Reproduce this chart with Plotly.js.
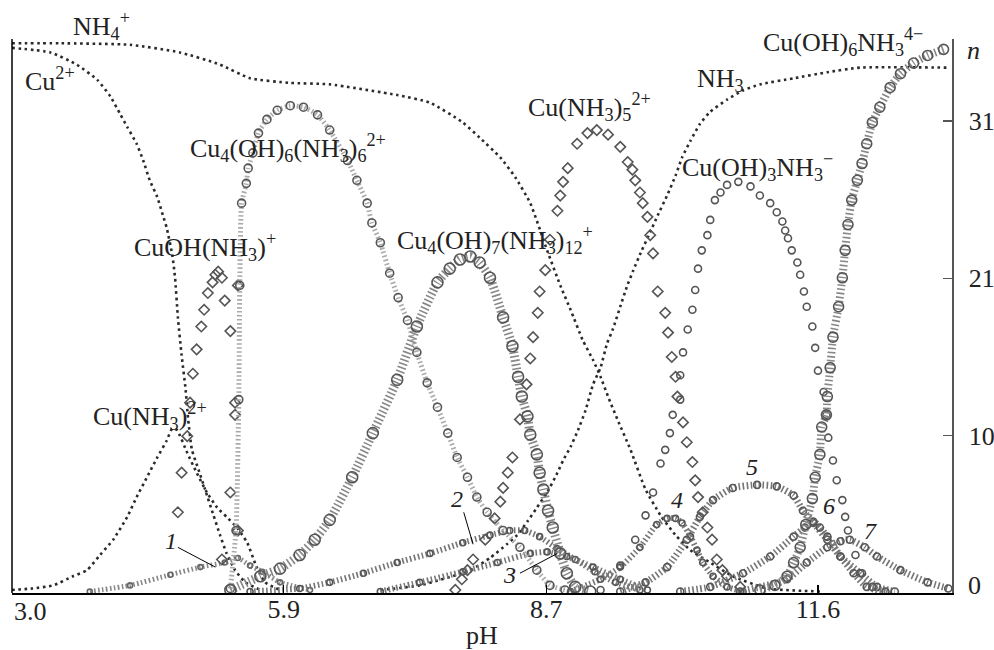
<!DOCTYPE html>
<html><head><meta charset="utf-8">
<script src="https://cdn.plot.ly/plotly-3.0.1.min.js"></script>
<style>html,body{margin:0;padding:0;background:#fff}</style>
</head><body>
<div id="chart" style="width:994px;height:650px"></div>
<script>
// ---- data (pH, n) ----
const pH_NH4 = [3.0,3.51,4.26,4.79,5.22,5.54,5.97,6.39,7.11,7.46,7.81,7.99,8.21,8.37,8.53,8.71,8.85,8.96,9.09,9.20,9.28,9.36,9.46,9.60,9.76,9.92,10.08,10.24,10.45,10.69,11.06,11.62];
const n_NH4  = [36.1,36.1,36.0,35.5,34.7,33.8,33.5,33.4,32.7,32.2,30.9,29.9,28.6,27.3,25.6,22.5,20.2,18.6,16.6,15.3,14.2,12.9,11.4,9.4,6.8,5.1,3.8,2.8,2.0,1.1,0.3,0.1];

const pH_NH3 = [6.93,7.35,7.89,8.10,8.28,8.39,8.50,8.60,8.71,8.82,8.88,8.96,9.04,9.12,9.20,9.28,9.35,9.41,9.49,9.56,9.63,9.72,9.81,9.89,9.99,10.08,10.15,10.24,10.34,10.45,10.63,10.80,10.98,11.34,11.70,12.05,12.99];
const n_NH3  = [0.2,0.5,1.5,2.3,3.2,3.8,4.7,5.6,6.6,7.9,8.7,9.6,10.7,12.0,13.7,14.8,16.4,17.3,18.8,20.1,21.2,22.5,23.7,24.8,26.1,27.4,28.6,29.7,30.8,31.6,32.4,33.0,33.4,33.8,34.2,34.5,34.5];

const pH_Cu = [3.0,3.41,3.69,3.91,4.05,4.15,4.23,4.33,4.40,4.47,4.55,4.61,4.65,4.71,4.74,4.77,4.81,4.85,4.88,4.92,4.99,5.06,5.15,5.22,5.29,5.38,5.49,5.65];
const n_Cu  = [35.8,35.5,34.7,33.7,32.6,31.5,30.6,29.5,28.4,27.1,26.0,24.8,24.0,22.2,20.7,18.1,15.6,13.5,11.4,9.4,8.1,6.8,5.1,3.8,2.6,1.5,0.7,0.2];

const pH_CuNH3 = [3.0,3.22,3.44,3.65,3.80,3.94,4.08,4.23,4.33,4.44,4.55,4.65,4.71,4.76,4.87,4.97,5.08,5.19,5.29,5.40,5.51,5.61,5.70,5.86];
const n_CuNH3  = [0.2,0.3,0.5,1.1,1.5,2.5,3.5,5.0,6.3,7.6,8.9,10.0,10.8,10.7,9.2,7.9,6.6,5.6,5.0,4.3,3.3,1.7,0.7,0.2];

const pH_CuOH = [4.77,4.81,4.90,4.93,4.97,5.02,5.05,5.09,5.14,5.17,5.20,5.24,5.27,5.41,5.33,5.38,5.38,5.33,5.41,5.24,4.87];
const n_CuOH  = [5.3,7.9,12.5,14.4,16.0,17.5,18.6,19.7,20.4,20.9,21.1,20.7,19.2,20.2,17.2,12.5,11.7,6.6,4.1,2.2,10.3];

const pH_Cu4OH6 = [5.33,5.39,5.42,5.43,5.45,5.50,5.52,5.57,5.63,5.72,5.83,5.97,6.11,6.26,6.39,6.58,6.68,6.79,6.84,6.93,7.03,7.12,7.22,7.32,7.43,7.54,7.65,7.75,7.86,7.96,8.07,8.24,8.42,8.60,8.74,8.90];
const n_Cu4OH6  = [0.3,4.1,12.7,20.2,25.6,26.9,27.9,28.9,30.2,31.1,31.7,32.0,31.9,31.4,30.4,28.4,27.1,25.6,24.3,23.0,21.0,19.4,17.9,15.8,13.8,12.2,10.5,8.9,7.6,6.3,5.3,4.1,3.0,1.5,0.5,0.2];

const pH_Cu4OH7 = [5.33,5.65,5.86,6.07,6.23,6.39,6.63,6.85,7.11,7.32,7.54,7.67,7.78,7.89,7.99,8.10,8.24,8.34,8.40,8.44,8.50,8.53,8.60,8.63,8.67,8.72,8.77,8.85,8.92,9.01,9.17];
const n_Cu4OH7  = [0.2,1.1,1.6,2.5,3.5,4.8,7.6,10.5,14.0,17.5,20.4,21.3,21.9,22.1,21.7,20.7,18.1,16.2,14.2,12.9,11.6,10.4,9.1,7.9,6.8,5.4,4.3,2.6,1.3,0.4,0.1];

const pH_CuNH35 = [7.73,7.80,7.86,7.92,8.05,8.15,8.21,8.24,8.29,8.34,8.42,8.49,8.53,8.56,8.61,8.63,8.69,8.74,8.82,8.85,8.88,8.93,9.03,9.14,9.24,9.36,9.49,9.57,9.62,9.65,9.70,9.73,9.78,9.81,9.84,9.89,9.97,10.00,10.04,10.08,10.10,10.16,10.20,10.26,10.29,10.32,10.37,10.42,10.47,10.52,10.58,10.63,10.77];
const n_CuNH35  = [0.2,0.9,1.5,2.2,3.5,4.9,6.0,6.9,7.9,8.9,11.4,13.7,15.4,16.8,18.4,19.8,21.2,23.2,25.1,26.1,27.0,27.9,29.5,30.2,30.4,30.1,29.3,28.3,27.8,27.1,26.3,25.6,24.7,23.5,22.3,19.8,18.4,17.1,15.5,14.2,12.9,11.2,9.9,8.6,7.4,6.3,5.3,4.3,3.5,2.2,1.5,1.1,0.4];

const pH_CuOH3 = [9.28,9.49,9.65,9.76,9.84,9.92,9.97,10.02,10.05,10.13,10.13,10.16,10.21,10.26,10.29,10.32,10.36,10.42,10.45,10.50,10.56,10.63,10.75,10.88,10.98,11.09,11.16,11.22,11.25,11.28,11.32,11.38,11.41,11.45,11.48,11.54,11.57,11.60,11.66,11.69,11.71,11.76,11.80,11.86,11.89,11.92,12.00,12.07,12.18];
const n_CuOH3  = [0.2,1.8,3.5,5.1,6.6,8.5,9.4,10.5,11.7,12.7,14.3,15.8,17.3,18.6,19.9,21.3,22.5,23.5,24.5,25.8,26.3,26.8,27.0,26.7,26.1,25.6,25.0,24.4,23.8,23.3,22.5,21.7,20.9,19.8,18.8,17.5,16.1,14.6,13.2,11.7,10.2,8.7,7.4,6.1,5.0,4.1,2.5,1.3,0.4];

const pH_CuOH6 = [10.98,11.14,11.27,11.34,11.41,11.47,11.54,11.57,11.62,11.64,11.69,11.70,11.73,11.76,11.82,11.86,11.89,11.92,11.96,12.02,12.07,12.12,12.18,12.26,12.37,12.48,12.62,12.77,12.94];
const n_CuOH6  = [0.2,0.5,1.1,2.0,3.0,4.5,6.2,7.6,9.1,10.9,11.7,12.9,14.8,16.8,18.8,20.7,22.5,24.2,25.8,27.1,28.2,29.5,30.9,31.9,33.2,34.1,34.8,35.3,35.7];

const pH_c1 = [3.83,4.26,4.69,5.01,5.27,5.41,5.54,5.67,5.86,6.18];
const n_c1  = [0.1,0.5,1.2,1.7,2.0,2.3,1.8,1.4,0.7,0.2];
const pH_c2 = [5.54,6.07,6.39,6.75,7.11,7.46,7.81,8.10,8.31,8.47,8.63,8.82,9.01,9.22,9.44,9.70];
const n_c2  = [0.1,0.3,0.7,1.3,2.0,2.6,3.3,3.8,4.1,4.1,3.7,2.9,2.2,1.4,0.7,0.2];
const pH_c3 = [6.93,7.35,7.81,8.18,8.53,8.71,8.92,9.20,9.49,9.78];
const n_c3  = [0.1,0.7,1.4,2.0,2.6,2.7,2.4,1.7,0.9,0.2];
const pH_c4 = [8.96,9.28,9.49,9.70,9.88,9.99,10.08,10.15,10.24,10.31,10.37,10.48,10.63,10.80];
const n_c4  = [0.1,0.9,1.7,3.0,4.5,4.9,4.9,4.6,3.7,2.8,2.0,1.1,0.4,0.1];
const pH_c5 = [9.49,9.76,9.99,10.20,10.34,10.48,10.69,10.95,11.16,11.34,11.44,11.55,11.70,11.84,12.05,12.23,12.42];
const n_c5  = [0.1,0.7,1.7,3.5,5.0,6.1,6.9,7.1,7.0,6.4,5.4,4.6,3.5,2.4,1.3,0.4,0.1];
const pH_c6 = [10.13,10.45,10.80,11.09,11.34,11.46,11.55,11.62,11.70,11.84,11.98,12.12,12.32];
const n_c6  = [0.1,0.4,1.3,2.4,3.7,4.3,4.7,4.3,3.7,2.4,1.3,0.4,0.1];
const pH_c7 = [10.77,11.27,11.48,11.70,11.84,11.94,12.10,12.23,12.48,12.77,12.99];
const n_c7  = [0.1,0.9,2.0,3.0,3.4,3.5,3.0,2.4,1.5,0.7,0.3];

const xTicks = [5.9, 8.7, 11.6];
const yTicks = [0, 10.33, 20.67, 31];
const yTickText = ['', '10', '21', '31'];

// ---- helpers ----
const FONT = '"Liberation Serif", "Times New Roman", serif';
function dotted(x, y) {
  return {x, y, type:'scatter', mode:'lines', hoverinfo:'skip',
    line:{color:'#2a2a2a', width:2.6, dash:'2.6px,3.6px', shape:'spline', smoothing:0.5}};
}
function tube(x, y, w, col) {
  return {x, y, type:'scatter', mode:'lines', hoverinfo:'skip',
    line:{color:col||'#777', width:w, dash:'1.6px,2.4px', shape:'spline', smoothing:0.5}};
}
function rings(x, y, size, symbol, col) {
  return {x, y, type:'scatter', mode:'markers', hoverinfo:'skip',
    marker:{symbol:symbol||'circle-open', size, color:col||'#555', line:{width:1.6}}};
}

const traces = [
  dotted(pH_NH4, n_NH4),
  dotted(pH_NH3, n_NH3),
  dotted(pH_Cu, n_Cu),
  dotted(pH_CuNH3, n_CuNH3),
  tube(pH_c1, n_c1, 5, '#888'), rings(pH_c1, n_c1, 5, 'circle-open', '#666'),
  tube(pH_c2, n_c2, 6), rings(pH_c2, n_c2, 6),
  tube(pH_c3, n_c3, 6), rings(pH_c3, n_c3, 6),
  tube(pH_c4, n_c4, 6), rings(pH_c4, n_c4, 6),
  tube(pH_c5, n_c5, 7), rings(pH_c5, n_c5, 7),
  tube(pH_c6, n_c6, 7), rings(pH_c6, n_c6, 7),
  tube(pH_c7, n_c7, 7), rings(pH_c7, n_c7, 7),
  rings(pH_CuOH, n_CuOH, 8, 'diamond-open'),
  tube(pH_Cu4OH6, n_Cu4OH6, 5, '#aaa'), rings(pH_Cu4OH6, n_Cu4OH6, 8),
  tube(pH_Cu4OH7, n_Cu4OH7, 9, '#888'), rings(pH_Cu4OH7, n_Cu4OH7, 11),
  rings(pH_CuNH35, n_CuNH35, 8, 'diamond-open'),
  rings(pH_CuOH3, n_CuOH3, 7),
  tube(pH_CuOH6, n_CuOH6, 8, '#888'), rings(pH_CuOH6, n_CuOH6, 10)
];

function lab(text, x, y, opts) {
  return Object.assign({text, x, y, xref:'x', yref:'y', showarrow:false,
    xanchor:'center', yanchor:'middle', font:{family:FONT, size:26, color:'#222'}}, opts||{});
}
function num(text, x, y) {
  return lab('<i>'+text+'</i>', x, y, {font:{family:FONT, size:24, color:'#222'}});
}

const annotations = [
  lab('NH<sub>4</sub><sup>+</sup>', 3.95, 1.0235, {yref:'paper'}),
  lab('Cu<sup>2+</sup>', 3.41, 33.7),
  lab('Cu<sub>4</sub>(OH)<sub>6</sub>(NH<sub>3</sub>)<sub>6</sub><sup>2+</sup>', 5.95, 29.2),
  lab('Cu(NH<sub>3</sub>)<sub>5</sub><sup>2+</sup>', 9.16, 31.9),
  lab('NH<sub>3</sub>', 10.56, 33.7),
  lab('Cu(OH)<sub>6</sub>NH<sub>3</sub><sup>4\u2212</sup>', 11.87, 36.2),
  lab('Cu(OH)<sub>3</sub>NH<sub>3</sub><sup>\u2212</sup>', 10.95, 28.0),
  lab('CuOH(NH<sub>3</sub>)<sup>+</sup>', 5.06, 22.7),
  lab('Cu<sub>4</sub>(OH)<sub>7</sub>(NH<sub>3</sub>)<sub>12</sub><sup>+</sup>', 8.15, 23.2),
  lab('Cu(NH<sub>3</sub>)<sup>2+</sup>', 4.47, 11.6),
  num('1', 4.70, 3.4), num('2', 7.75, 6.2), num('3', 8.31, 1.2),
  num('4', 10.10, 6.1), num('5', 10.90, 8.3), num('6', 11.72, 5.7), num('7', 12.16, 4.1),
  {text:'<i>n</i>', xref:'paper', yref:'paper', x:1.0234, y:0.98, showarrow:false,
   xanchor:'center', yanchor:'middle', font:{family:FONT, size:26, color:'#222'}},
  {text:'3.0', xref:'x', yref:'paper', x:3.0, y:-0.003, showarrow:false,
   xanchor:'left', yanchor:'top', font:{family:FONT, size:26, color:'#222'}},
  {text:'0', xref:'paper', yref:'y', x:1.015, y:0.5, showarrow:false,
   xanchor:'left', yanchor:'middle', font:{family:FONT, size:26, color:'#222'}}
];

const shapes = [
  {type:'line', xref:'paper', yref:'paper', x0:0, x1:0, y0:0, y1:1, line:{color:'#000', width:1.5}},
  {type:'line', xref:'x', yref:'y', x0:4.77, y0:3.0, x1:5.17, y1:1.7, line:{color:'#000', width:1}},
  {type:'line', xref:'x', yref:'y', x0:7.82, y0:5.3, x1:7.92, y1:3.2, line:{color:'#000', width:1}},
  {type:'line', xref:'x', yref:'y', x0:8.42, y0:1.3, x1:8.82, y1:2.6, line:{color:'#000', width:1}}
];

const layout = {
  width:994, height:650,
  margin:{l:12, r:42, t:39, b:57},
  paper_bgcolor:'#fff', plot_bgcolor:'#fff',
  showlegend:false,
  font:{family:FONT, size:26, color:'#222'},
  xaxis:{range:[3.0, 13.03], showgrid:false, zeroline:false, showline:true,
    linecolor:'#000', linewidth:2, ticks:'inside', ticklen:8, tickwidth:1.2, tickcolor:'#000',
    tickvals:xTicks, ticktext:xTicks.map(v=>v.toFixed(1)), tickfont:{family:FONT, size:26, color:'#222'},
    ticklabelstandoff:-8,
    title:{text:'pH', font:{family:FONT, size:26, color:'#222'}, standoff:16}, automargin:false, fixedrange:true},
  yaxis:{range:[0, 36.38], side:'right', showgrid:false, zeroline:false, showline:true,
    linecolor:'#555', linewidth:1.5, ticks:'inside', ticklen:9, tickwidth:1.2, tickcolor:'#555',
    tickvals:yTicks, ticktext:yTickText, tickfont:{family:FONT, size:26, color:'#222'},
    ticklabelstandoff:10, automargin:false, fixedrange:true},
  annotations, shapes
};

Plotly.newPlot('chart', traces, layout, {displayModeBar:false, staticPlot:true});
</script>
</body></html>
